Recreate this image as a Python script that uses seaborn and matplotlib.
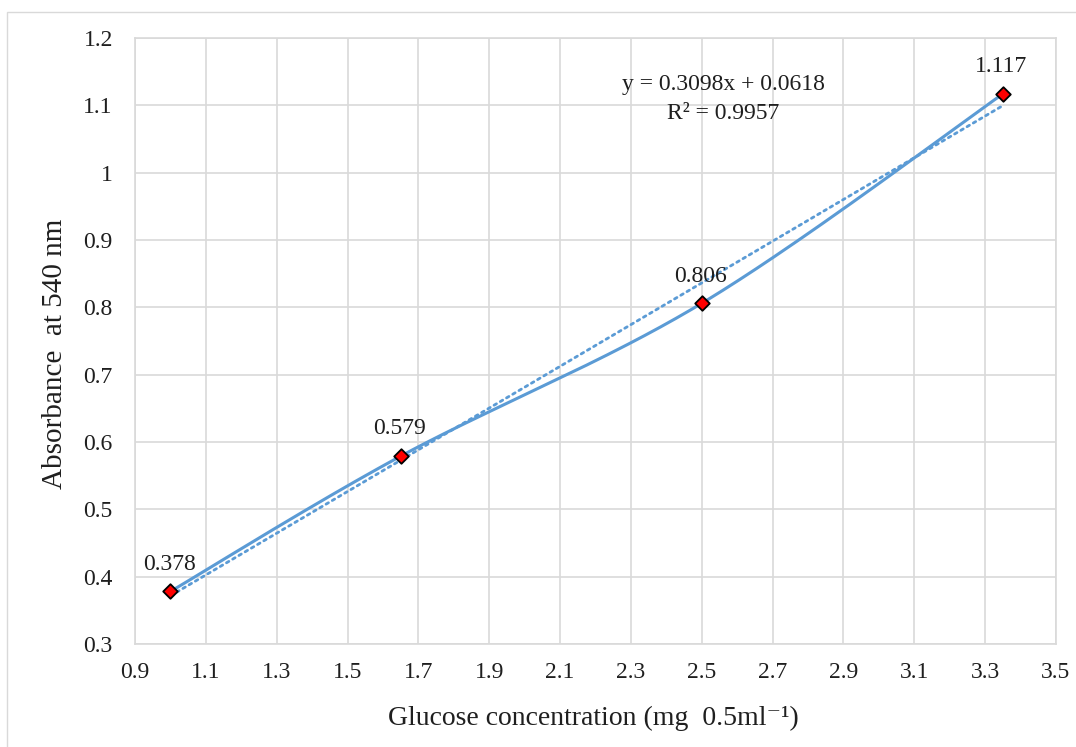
import numpy as np
import pandas as pd
import matplotlib
matplotlib.use("Agg")
import matplotlib.pyplot as plt
import seaborn as sns

# Calibration data
glucose = [1.0, 1.65, 2.5, 3.35]          # mg / 0.5 ml
absorbance = [0.378, 0.579, 0.806, 1.117]  # A540
point_labels = ["0.378", "0.579", "0.806", "1.117"]

# Linear trendline reported on the chart
slope = 0.3098
intercept = 0.0618
r_squared = 0.9957

x_ticks = [0.9, 1.1, 1.3, 1.5, 1.7, 1.9, 2.1, 2.3, 2.5, 2.7, 2.9, 3.1, 3.3, 3.5]
y_ticks = [0.3, 0.4, 0.5, 0.6, 0.7, 0.8, 0.9, 1.0, 1.1, 1.2]
y_tick_labels = ["0.3", "0.4", "0.5", "0.6", "0.7", "0.8", "0.9", "1", "1.1", "1.2"]

BLUE = "#5B9BD5"
GRID = "#D9D9D9"
TEXT = "#1F1F1F"

sns.set_theme(style="white")
plt.rcParams["font.family"] = ["Liberation Serif", "DejaVu Serif"]


def smooth_curve(xs, ys, n=60):
    """Cubic Bezier smoothing through the points (spreadsheet-style)."""
    pts = np.column_stack([xs, ys]).astype(float)
    padded = np.vstack([pts[0], pts, pts[-1]])
    out = []
    for i in range(len(pts) - 1):
        p0, p1, p2, p3 = padded[i], padded[i + 1], padded[i + 2], padded[i + 3]
        c1 = p1 + (p2 - p0) / 6.0
        c2 = p2 - (p3 - p1) / 6.0
        t = np.linspace(0, 1, n)[:, None]
        seg = ((1 - t) ** 3) * p1 + 3 * ((1 - t) ** 2) * t * c1 + 3 * (1 - t) * t ** 2 * c2 + t ** 3 * p2
        out.append(seg if i == 0 else seg[1:])
    curve = np.vstack(out)
    return curve[:, 0], curve[:, 1]


fig = plt.figure(figsize=(10.76, 7.47), dpi=100)
ax = fig.add_axes([0.1255, 0.1379, 0.8559, 0.8112])

# Outer chart frame
fig.patches.append(plt.Rectangle((7 / 1076, -0.05), 1.2, 1 - 12 / 747 + 0.05,
                                 transform=fig.transFigure, fill=False,
                                 edgecolor=GRID, linewidth=1.0))

df = pd.DataFrame({"glucose": glucose, "absorbance": absorbance})

# Smoothed connecting line
sx, sy = smooth_curve(glucose, absorbance)
ax.plot(sx, sy, color=BLUE, linewidth=2.2, zorder=3, solid_capstyle="round")

# Linear trendline
tx = np.array([min(glucose), max(glucose)])
ty = slope * tx + intercept
sns.lineplot(x=tx, y=ty, ax=ax, color=BLUE, linewidth=2.0,
             linestyle=(0, (1, 1.6)), dash_capstyle="round", zorder=2)

# Data points
sns.scatterplot(data=df, x="glucose", y="absorbance", ax=ax, marker="D",
                s=55, color="#FF0000", edgecolor="black", linewidth=1.3, zorder=5)

for xv, yv, lab in zip(glucose, absorbance, point_labels):
    ax.annotate(lab, (xv, yv), xytext=(-1, 12), textcoords="offset points",
                ha="center", va="bottom", fontsize=17, color=TEXT)

ax.text(2.56, 1.131, f"y = {slope:.4f}x + {intercept:.4f}", ha="center",
        va="center", fontsize=17, color=TEXT)
ax.text(2.56, 1.088, f"R² = {r_squared:.4f}", ha="center", va="center",
        fontsize=17, color=TEXT)

ax.set_xlim(0.9, 3.5)
ax.set_ylim(0.3, 1.2)
ax.set_xticks(x_ticks)
ax.set_xticklabels([f"{v:.1f}" for v in x_ticks])
ax.set_yticks(y_ticks)
ax.set_yticklabels(y_tick_labels)
ax.tick_params(axis="both", length=0, labelsize=17, colors=TEXT)
ax.tick_params(axis="y", pad=16)
ax.tick_params(axis="x", pad=13)
ax.grid(True, color=GRID, linewidth=1.2)
ax.set_axisbelow(True)
for sp in ax.spines.values():
    sp.set_color(GRID)
    sp.set_linewidth(1.2)

ax.set_xlabel("Glucose concentration (mg  0.5ml⁻¹)",
              fontsize=20, color=TEXT)
ax.set_ylabel("Absorbance  at 540 nm", fontsize=21, color=TEXT)
ax.xaxis.set_label_coords(0.498, -0.102)
ax.yaxis.set_label_coords(-0.073, 0.478)

fig.savefig("out.png", dpi=100, facecolor="white")
